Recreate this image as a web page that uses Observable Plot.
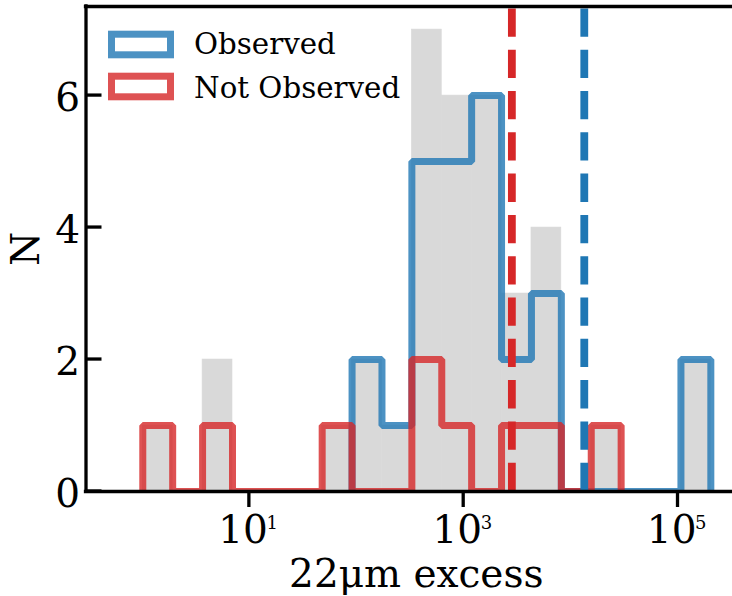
<!DOCTYPE html>
<html><head><meta charset="utf-8">
<script src="https://cdn.jsdelivr.net/npm/d3@7"></script>
<script src="https://cdn.jsdelivr.net/npm/@observablehq/plot@0.6"></script>
<style>
html,body{margin:0;padding:0;background:#fff;}
#chart{position:relative;width:732px;height:596px;}
svg{display:block;}
</style></head><body><div id="chart"></div>
<script>
// ---- data ----
const binEdges = [1.023, 1.945, 3.698, 7.031, 13.37, 25.41, 48.31, 91.83, 174.6, 331.9, 631.0, 1199, 2280, 4335, 8241, 15668, 29785, 56624, 107647, 204644];
const allCounts = [1, 0, 2, 0, 0, 0, 1, 2, 1, 7, 6, 6, 3, 4, 0, 1, 0, 0, 2];
const observedFirstBin = 7;
const observedCounts = [2, 1, 5, 5, 6, 2, 3, 0, 0, 0, 0, 2];
const notObservedFirstBin = 0;
const notObservedCounts = [1, 0, 1, 0, 0, 0, 1, 0, 0, 2, 1, 0, 1, 1, 0, 1];
const seriesLabels = ["Observed", "Not Observed"];
const seriesColors = ["#1f77b4", "#d62728"];
const medians = [13490, 2846]; // observed, not observed
const xTicks = [10, 1000, 100000];
const xTickBase = ["10", "10", "10"];
const xTickExp = ["1", "3", "5"];
const yTicks = [0, 2, 4, 6];
const xDomain = [0.302, 3.26e5];
const yDomain = [0, 7.35];
const xLabelParts = ["22", "μ", "m excess"];
const yLabel = "N";

// ---- derived tables ----
const bars = allCounts.map((c, i) => ({x1: binEdges[i], x2: binEdges[i + 1], n: c}));
function stepPoints(first, counts) {
  const e = binEdges.slice(first, first + counts.length + 1);
  const pts = [{x: e[0], y: 0}];
  counts.forEach((c, i) => { pts.push({x: e[i], y: c}); pts.push({x: e[i + 1], y: c}); });
  pts.push({x: e[counts.length], y: 0});
  return pts;
}
const obsSteps = stepPoints(observedFirstBin, observedCounts);
const notObsSteps = stepPoints(notObservedFirstBin, notObservedCounts);

const font = "DejaVu Serif";
const svg = Plot.plot({
  width: 732,
  height: 596,
  marginLeft: 85.5,
  marginRight: 0,
  marginTop: 6,
  marginBottom: 105,
  style: {fontFamily: font, background: "white", color: "black"},
  x: {type: "log", domain: xDomain},
  y: {domain: yDomain, axis: null},
  marks: [
    Plot.rect(bars, {x1: "x1", x2: "x2", y1: d => 0, y2: "n", fill: "#d9d9d9", stroke: "#d9d9d9", strokeWidth: 0.6}),
    Plot.line(obsSteps, {x: "x", y: "y", stroke: seriesColors[0], strokeOpacity: 0.8, strokeWidth: 7, strokeLinejoin: "miter", strokeLinecap: "butt", clip: true}),
    Plot.line(notObsSteps, {x: "x", y: "y", stroke: seriesColors[1], strokeOpacity: 0.8, strokeWidth: 7, strokeLinejoin: "miter", strokeLinecap: "butt", clip: true}),
    Plot.ruleX([medians[0]], {x: d => d, y1: d => yDomain[0], y2: d => yDomain[1], stroke: seriesColors[0], strokeWidth: 7.8, strokeDasharray: "28.3,13"}),
    Plot.ruleX([medians[1]], {x: d => d, y1: d => yDomain[0], y2: d => yDomain[1], stroke: seriesColors[1], strokeWidth: 7.8, strokeDasharray: "28.3,13"}),
    Plot.ruleY([yDomain[0], yDomain[1]], {y: d => d, stroke: "black", strokeWidth: 3.3, strokeLinecap: "square"}),
    Plot.ruleX([xDomain[0]], {x: d => d, stroke: "black", strokeWidth: 3.3, strokeLinecap: "square"}),
    Plot.axisX({ticks: xTicks, tickSize: 16, strokeWidth: 3.3, tickFormat: () => "", label: null}),
    Plot.text(yTicks, {y: d => d, frameAnchor: "left", textAnchor: "end", lineAnchor: "bottom", dx: -6, dy: 15.5, fontSize: 39, fill: "black", text: d => String(d)}),
    Plot.text(xTicks, {x: d => d, frameAnchor: "bottom", textAnchor: "end", lineAnchor: "bottom", dx: 19, dy: 51.7, fontSize: 39, fill: "black", text: (d, i) => xTickBase[i]}),
    Plot.text(xTicks, {x: d => d, frameAnchor: "bottom", textAnchor: "start", lineAnchor: "bottom", dx: 17.5, dy: 37, fontSize: 18, fill: "black", text: (d, i) => xTickExp[i]}),
    Plot.text([yLabel], {frameAnchor: "left", textAnchor: "middle", rotate: -90, lineAnchor: "bottom", dx: -47, fontSize: 39, fill: "black", text: d => d}),
    Plot.text([xLabelParts.join("")], {frameAnchor: "bottom", textAnchor: "middle", lineAnchor: "bottom", dy: 95.5, dx: 7, fontSize: 39, fill: "black", text: d => d, ariaLabel: "xlabel"})
  ]
});

const ns = "http://www.w3.org/2000/svg";
// italic mu in x label
const xl = svg.querySelector('g[aria-label="xlabel"] text');
if (xl) {
  xl.textContent = "";
  xLabelParts.forEach((p, i) => {
    const ts = document.createElementNS(ns, "tspan");
    ts.textContent = p;
    if (i === 1) ts.setAttribute("font-style", "italic");
    xl.appendChild(ts);
  });
}

// inward y ticks, placed with Plot's own y scale
const yScale = svg.scale("y");
const xScale = svg.scale("x");
const left = xScale.apply(xDomain[0]);
const tg = d3.select(svg).append("g").attr("stroke", "black").attr("stroke-width", 3.3);
yTicks.forEach(v => {
  tg.append("line").attr("x1", left).attr("x2", left + 16).attr("y1", yScale.apply(v)).attr("y2", yScale.apply(v));
});

// legend (inside the axes, upper left)
const lg = d3.select(svg).append("g").attr("font-family", font).attr("text-anchor", "start");
const swatchTop = [34.2, 76.2];
const textBase = [53.9, 97.8];
seriesLabels.forEach((lab, i) => {
  lg.append("rect").attr("x", 111.5).attr("y", swatchTop[i]).attr("width", 59).attr("height", 20.6)
    .attr("fill", "white").attr("stroke", seriesColors[i]).attr("stroke-opacity", 0.8).attr("stroke-width", 7);
  lg.append("text").attr("x", 194).attr("y", textBase[i]).attr("font-size", 29.3).attr("fill", "black")
    .attr("text-anchor", "start").text(lab);
});

document.getElementById("chart").appendChild(svg);
</script></body></html>
